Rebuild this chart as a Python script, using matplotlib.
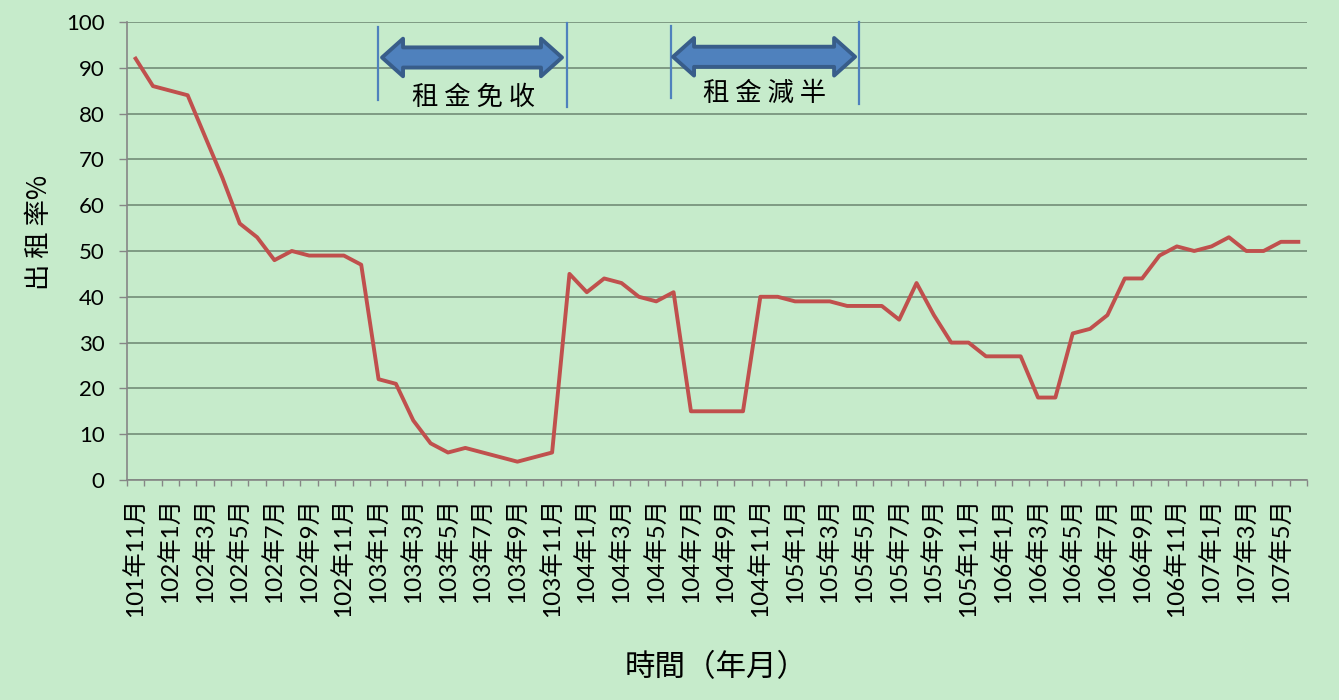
import matplotlib.pyplot as plt
from matplotlib.patches import Polygon
from matplotlib.ticker import FixedLocator, NullFormatter

# 月份（101年11月 ~ 107年6月）
months = []
for y, m in [(101, 11), (101, 12)] + [(yy, mm) for yy in range(102, 107) for mm in range(1, 13)] + [(107, mm) for mm in range(1, 7)]:
    months.append(f"{y}年{m}月")

rates = [92, 86, 85, 84, 75, 66, 56, 53, 48, 50, 49, 49, 49, 47,
         22, 21, 13, 8, 6, 7, 6, 5, 4, 5, 6, 45,
         41, 44, 43, 40, 39, 41, 15, 15, 15, 15, 40, 40,
         39, 39, 39, 38, 38, 38, 35, 43, 36, 30, 30, 27,
         27, 27, 18, 18, 32, 33, 36, 44, 44, 49, 51, 50,
         51, 53, 50, 50, 52, 52]

# 標註：期間邊界線 (x, y下, y上)、雙箭頭 (x起, x迄, y)、文字 (x, y, 內容)
period_lines = [(13.96, 83.0, 98.9), (24.86, 81.4, 99.8), (30.85, 83.4, 99.1), (41.69, 82.1, 100.0)]
arrows = [(14.2, 24.57, 92.25), (30.97, 41.46, 92.4)]
labels = [(19.45, 83.6, "租 金 免 收"), (36.27, 84.3, "租 金 減 半")]

bg = "#C6EBCB"
num_font = ["Lato", "Noto Sans CJK TC"]
cjk_font = ["Noto Sans CJK TC", "DejaVu Sans"]

fig = plt.figure(figsize=(13.39, 7), dpi=100, facecolor=bg)
ax = fig.add_axes([0.0948, 0.3143, 0.8813, 0.6543])
ax.set_facecolor(bg)

x = list(range(len(rates)))
ax.plot(x, rates, color="#C0504D", lw=2.8, zorder=3)

ax.set_xlim(-0.5, len(rates) - 0.5)
ax.set_ylim(0, 100)
ax.set_yticks(range(0, 101, 10))
ax.grid(axis="y", color="#7F9A84", lw=1.4)
ax.set_axisbelow(True)

ax.set_xticks(x[::2])
ax.set_xticklabels(months[::2], rotation=90, family=num_font, fontsize=17.5)
ax.xaxis.set_minor_locator(FixedLocator([i - 0.5 for i in range(len(rates) + 1)]))
ax.xaxis.set_minor_formatter(NullFormatter())
ax.tick_params(axis="x", which="major", length=0, pad=13)
ax.tick_params(axis="x", which="minor", length=4.5, color="#868686", width=1)
ax.tick_params(axis="y", length=6, color="#868686", width=1, pad=10, labelsize=16)
for t in ax.get_yticklabels():
    t.set_family(num_font)

for s in ["top", "right"]:
    ax.spines[s].set_visible(False)
for s in ["left", "bottom"]:
    ax.spines[s].set_color("#868686")
    ax.spines[s].set_linewidth(1.2)

ax.set_ylabel("出 租 率%", family=cjk_font, fontsize=19)
ax.yaxis.set_label_coords(-0.063, 0.54)
ax.set_xlabel("時間（年月）", family=cjk_font, fontsize=22)
ax.xaxis.set_label_coords(0.499, -0.375)

for lx, y0, y1 in period_lines:
    ax.plot([lx, lx], [y0, y1], color="#4F81BD", lw=1.6, zorder=4, clip_on=False)

hl, hh, sh = 1.21, 4.1, 2.2
for x0, x1, yc in arrows:
    pts = [(x0, yc), (x0 + hl, yc + hh), (x0 + hl, yc + sh), (x1 - hl, yc + sh),
           (x1 - hl, yc + hh), (x1, yc), (x1 - hl, yc - hh), (x1 - hl, yc - sh),
           (x0 + hl, yc - sh), (x0 + hl, yc - hh)]
    ax.add_patch(Polygon(pts, closed=True, facecolor="#4F81BD", edgecolor="#385D8A",
                         lw=2.8, joinstyle="round", zorder=5))

for tx, ty, txt in labels:
    ax.text(tx, ty, txt, ha="center", va="center", family=cjk_font, fontsize=19, zorder=5)

fig.savefig("out.png", dpi=100, facecolor=bg)
